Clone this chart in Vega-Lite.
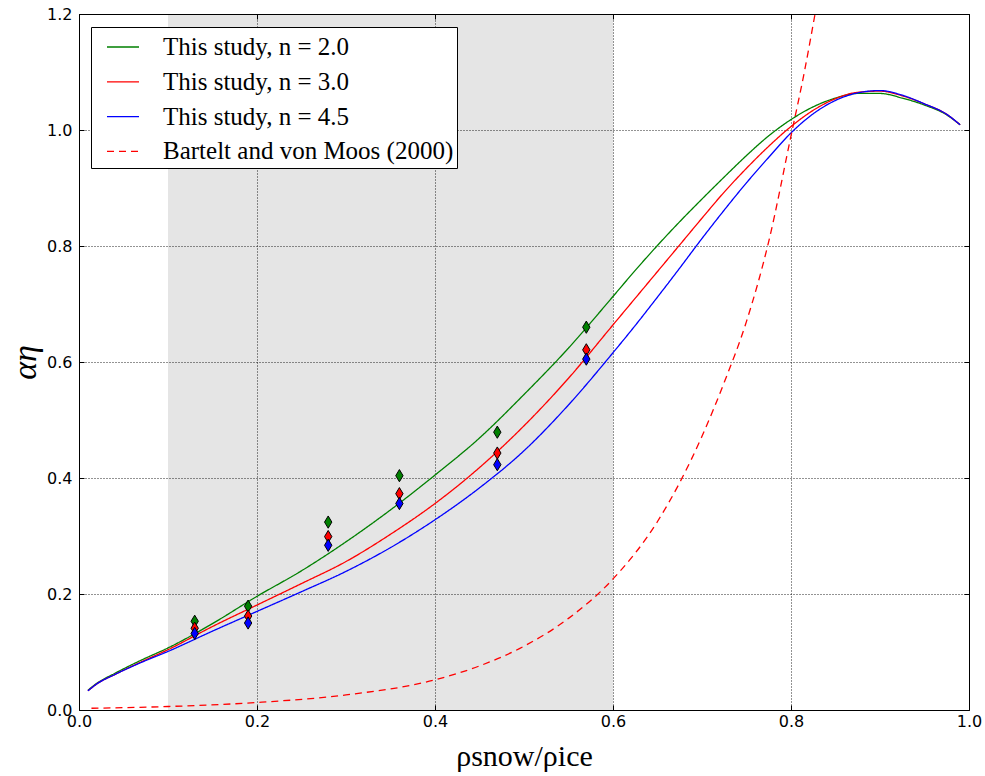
{
  "$schema": "https://vega.github.io/schema/vega-lite/v6.json",
  "width": 890,
  "height": 696,
  "autosize": {"type": "none"},
  "padding": {"left": 79, "top": 14, "right": 16, "bottom": 66},
  "background": "white",
  "config": {
    "view": {"stroke": null},
    "axis": {
      "labelFont": "DejaVu Sans",
      "labelFontSize": 16,
      "labelColor": "black",
      "tickColor": "black",
      "tickWidth": 1,
      "tickSize": -5,
      "domain": true,
      "domainColor": "black",
      "domainWidth": 1,
      "gridColor": "black",
      "gridOpacity": 0.85,
      "gridDash": [1, 2],
      "gridWidth": 1,
      "labelFlush": false,
      "labelOverlap": false,
      "labelBound": false,
      "zindex": 1
    },
    "legend": {
      "orient": "none",
      "legendX": 12,
      "legendY": 13,
      "strokeColor": "black",
      "fillColor": "white",
      "padding": 3,
      "symbolType": "stroke",
      "symbolSize": 1024,
      "symbolStrokeWidth": 1.3,
      "symbolOffset": 12,
      "labelOffset": 23,
      "labelFont": "Liberation Serif",
      "labelFontSize": 25,
      "labelColor": "black",
      "labelLimit": 0,
      "rowPadding": 4.8,
      "cornerRadius": 0
    }
  },
  "datasets": {
    "band": [{"x0": 0.1, "x1": 0.6}],
    "curves": [
      {"s": "This study,  n = 2.0", "x": 0.01, "y": 0.034},
      {"s": "This study,  n = 2.0", "x": 0.02, "y": 0.046},
      {"s": "This study,  n = 2.0", "x": 0.04, "y": 0.063},
      {"s": "This study,  n = 2.0", "x": 0.07, "y": 0.086},
      {"s": "This study,  n = 2.0", "x": 0.1, "y": 0.107},
      {"s": "This study,  n = 2.0", "x": 0.15, "y": 0.149},
      {"s": "This study,  n = 2.0", "x": 0.2, "y": 0.196},
      {"s": "This study,  n = 2.0", "x": 0.25, "y": 0.240},
      {"s": "This study,  n = 2.0", "x": 0.3, "y": 0.290},
      {"s": "This study,  n = 2.0", "x": 0.35, "y": 0.345},
      {"s": "This study,  n = 2.0", "x": 0.4, "y": 0.405},
      {"s": "This study,  n = 2.0", "x": 0.45, "y": 0.469},
      {"s": "This study,  n = 2.0", "x": 0.5, "y": 0.544},
      {"s": "This study,  n = 2.0", "x": 0.55, "y": 0.624},
      {"s": "This study,  n = 2.0", "x": 0.6, "y": 0.713},
      {"s": "This study,  n = 2.0", "x": 0.625, "y": 0.758},
      {"s": "This study,  n = 2.0", "x": 0.65, "y": 0.801},
      {"s": "This study,  n = 2.0", "x": 0.675, "y": 0.842},
      {"s": "This study,  n = 2.0", "x": 0.7, "y": 0.881},
      {"s": "This study,  n = 2.0", "x": 0.725, "y": 0.919},
      {"s": "This study,  n = 2.0", "x": 0.75, "y": 0.956},
      {"s": "This study,  n = 2.0", "x": 0.775, "y": 0.990},
      {"s": "This study,  n = 2.0", "x": 0.8, "y": 1.018},
      {"s": "This study,  n = 2.0", "x": 0.825, "y": 1.040},
      {"s": "This study,  n = 2.0", "x": 0.85, "y": 1.055},
      {"s": "This study,  n = 2.0", "x": 0.875, "y": 1.063},
      {"s": "This study,  n = 2.0", "x": 0.9, "y": 1.063},
      {"s": "This study,  n = 2.0", "x": 0.925, "y": 1.055},
      {"s": "This study,  n = 2.0", "x": 0.95, "y": 1.043},
      {"s": "This study,  n = 2.0", "x": 0.975, "y": 1.026},
      {"s": "This study,  n = 2.0", "x": 0.99, "y": 1.009},
      {"s": "This study,  n = 3.0", "x": 0.01, "y": 0.033},
      {"s": "This study,  n = 3.0", "x": 0.02, "y": 0.045},
      {"s": "This study,  n = 3.0", "x": 0.04, "y": 0.061},
      {"s": "This study,  n = 3.0", "x": 0.07, "y": 0.083},
      {"s": "This study,  n = 3.0", "x": 0.1, "y": 0.104},
      {"s": "This study,  n = 3.0", "x": 0.15, "y": 0.144},
      {"s": "This study,  n = 3.0", "x": 0.2, "y": 0.181},
      {"s": "This study,  n = 3.0", "x": 0.25, "y": 0.218},
      {"s": "This study,  n = 3.0", "x": 0.3, "y": 0.256},
      {"s": "This study,  n = 3.0", "x": 0.35, "y": 0.303},
      {"s": "This study,  n = 3.0", "x": 0.4, "y": 0.356},
      {"s": "This study,  n = 3.0", "x": 0.45, "y": 0.418},
      {"s": "This study,  n = 3.0", "x": 0.5, "y": 0.490},
      {"s": "This study,  n = 3.0", "x": 0.55, "y": 0.572},
      {"s": "This study,  n = 3.0", "x": 0.6, "y": 0.664},
      {"s": "This study,  n = 3.0", "x": 0.625, "y": 0.710},
      {"s": "This study,  n = 3.0", "x": 0.65, "y": 0.756},
      {"s": "This study,  n = 3.0", "x": 0.675, "y": 0.802},
      {"s": "This study,  n = 3.0", "x": 0.7, "y": 0.848},
      {"s": "This study,  n = 3.0", "x": 0.725, "y": 0.893},
      {"s": "This study,  n = 3.0", "x": 0.75, "y": 0.934},
      {"s": "This study,  n = 3.0", "x": 0.775, "y": 0.972},
      {"s": "This study,  n = 3.0", "x": 0.8, "y": 1.006},
      {"s": "This study,  n = 3.0", "x": 0.825, "y": 1.034},
      {"s": "This study,  n = 3.0", "x": 0.85, "y": 1.054},
      {"s": "This study,  n = 3.0", "x": 0.875, "y": 1.065},
      {"s": "This study,  n = 3.0", "x": 0.9, "y": 1.067},
      {"s": "This study,  n = 3.0", "x": 0.925, "y": 1.059},
      {"s": "This study,  n = 3.0", "x": 0.95, "y": 1.045},
      {"s": "This study,  n = 3.0", "x": 0.975, "y": 1.027},
      {"s": "This study,  n = 3.0", "x": 0.99, "y": 1.009},
      {"s": "This study,  n = 4.5", "x": 0.01, "y": 0.033},
      {"s": "This study,  n = 4.5", "x": 0.02, "y": 0.045},
      {"s": "This study,  n = 4.5", "x": 0.04, "y": 0.061},
      {"s": "This study,  n = 4.5", "x": 0.07, "y": 0.082},
      {"s": "This study,  n = 4.5", "x": 0.1, "y": 0.101},
      {"s": "This study,  n = 4.5", "x": 0.15, "y": 0.136},
      {"s": "This study,  n = 4.5", "x": 0.2, "y": 0.170},
      {"s": "This study,  n = 4.5", "x": 0.25, "y": 0.204},
      {"s": "This study,  n = 4.5", "x": 0.3, "y": 0.239},
      {"s": "This study,  n = 4.5", "x": 0.35, "y": 0.280},
      {"s": "This study,  n = 4.5", "x": 0.4, "y": 0.328},
      {"s": "This study,  n = 4.5", "x": 0.45, "y": 0.383},
      {"s": "This study,  n = 4.5", "x": 0.5, "y": 0.447},
      {"s": "This study,  n = 4.5", "x": 0.55, "y": 0.526},
      {"s": "This study,  n = 4.5", "x": 0.6, "y": 0.616},
      {"s": "This study,  n = 4.5", "x": 0.625, "y": 0.663},
      {"s": "This study,  n = 4.5", "x": 0.65, "y": 0.712},
      {"s": "This study,  n = 4.5", "x": 0.675, "y": 0.762},
      {"s": "This study,  n = 4.5", "x": 0.7, "y": 0.813},
      {"s": "This study,  n = 4.5", "x": 0.725, "y": 0.862},
      {"s": "This study,  n = 4.5", "x": 0.75, "y": 0.909},
      {"s": "This study,  n = 4.5", "x": 0.775, "y": 0.953},
      {"s": "This study,  n = 4.5", "x": 0.8, "y": 0.995},
      {"s": "This study,  n = 4.5", "x": 0.825, "y": 1.028},
      {"s": "This study,  n = 4.5", "x": 0.85, "y": 1.051},
      {"s": "This study,  n = 4.5", "x": 0.875, "y": 1.064},
      {"s": "This study,  n = 4.5", "x": 0.9, "y": 1.068},
      {"s": "This study,  n = 4.5", "x": 0.925, "y": 1.060},
      {"s": "This study,  n = 4.5", "x": 0.95, "y": 1.045},
      {"s": "This study,  n = 4.5", "x": 0.975, "y": 1.027},
      {"s": "This study,  n = 4.5", "x": 0.99, "y": 1.009},
      {"s": "Bartelt and von Moos (2000)", "x": 0.014, "y": 0.003},
      {"s": "Bartelt and von Moos (2000)", "x": 0.1, "y": 0.006},
      {"s": "Bartelt and von Moos (2000)", "x": 0.2, "y": 0.013},
      {"s": "Bartelt and von Moos (2000)", "x": 0.3, "y": 0.026},
      {"s": "Bartelt and von Moos (2000)", "x": 0.4, "y": 0.052},
      {"s": "Bartelt and von Moos (2000)", "x": 0.45, "y": 0.076},
      {"s": "Bartelt and von Moos (2000)", "x": 0.5, "y": 0.110},
      {"s": "Bartelt and von Moos (2000)", "x": 0.55, "y": 0.158},
      {"s": "Bartelt and von Moos (2000)", "x": 0.6, "y": 0.226},
      {"s": "Bartelt and von Moos (2000)", "x": 0.65, "y": 0.325},
      {"s": "Bartelt and von Moos (2000)", "x": 0.7, "y": 0.472},
      {"s": "Bartelt and von Moos (2000)", "x": 0.725, "y": 0.565},
      {"s": "Bartelt and von Moos (2000)", "x": 0.75, "y": 0.670},
      {"s": "Bartelt and von Moos (2000)", "x": 0.775, "y": 0.808},
      {"s": "Bartelt and von Moos (2000)", "x": 0.8, "y": 0.990},
      {"s": "Bartelt and von Moos (2000)", "x": 0.815, "y": 1.100},
      {"s": "Bartelt and von Moos (2000)", "x": 0.827, "y": 1.200}
    ],
    "points": [
      {"n": "2.0", "x": 0.13, "y": 0.153},
      {"n": "3.0", "x": 0.13, "y": 0.141},
      {"n": "4.5", "x": 0.13, "y": 0.132},
      {"n": "2.0", "x": 0.19, "y": 0.179},
      {"n": "3.0", "x": 0.19, "y": 0.162},
      {"n": "4.5", "x": 0.19, "y": 0.150},
      {"n": "2.0", "x": 0.28, "y": 0.324},
      {"n": "3.0", "x": 0.28, "y": 0.299},
      {"n": "4.5", "x": 0.28, "y": 0.284},
      {"n": "2.0", "x": 0.36, "y": 0.404},
      {"n": "3.0", "x": 0.36, "y": 0.373},
      {"n": "4.5", "x": 0.36, "y": 0.356},
      {"n": "2.0", "x": 0.47, "y": 0.479},
      {"n": "3.0", "x": 0.47, "y": 0.443},
      {"n": "4.5", "x": 0.47, "y": 0.423},
      {"n": "2.0", "x": 0.57, "y": 0.660},
      {"n": "3.0", "x": 0.57, "y": 0.621},
      {"n": "4.5", "x": 0.57, "y": 0.605}
    ]
  },
  "layer": [
    {
      "data": {"name": "band"},
      "mark": {"type": "rect", "color": "black", "opacity": 0.102},
      "encoding": {
        "x": {"field": "x0", "type": "quantitative", "scale": {"domain": [0, 1]}, "axis": null},
        "x2": {"field": "x1"}
      }
    },
    {
      "data": {"name": "curves"},
      "mark": {"type": "line", "strokeWidth": 1.3, "clip": true, "interpolate": "monotone"},
      "encoding": {
        "x": {
          "field": "x", "type": "quantitative",
          "scale": {"domain": [0, 1], "nice": false, "zero": false},
          "axis": {
            "orient": "bottom", "grid": true,
            "values": [0, 0.2, 0.4, 0.6, 0.8, 1.0], "format": ".1f",
            "labelPadding": 8,
            "title": "ρsnow/ρice",
            "titleFont": "Liberation Serif", "titleFontSize": 30, "titleFontWeight": "normal",
            "titleColor": "black", "titlePadding": 12
          }
        },
        "y": {
          "field": "y", "type": "quantitative",
          "scale": {"domain": [0, 1.2], "nice": false, "zero": false},
          "axis": {
            "orient": "left", "grid": true,
            "values": [0, 0.2, 0.4, 0.6, 0.8, 1.0, 1.2], "format": ".1f",
            "labelPadding": 12,
            "title": "αη",
            "titleFont": "Liberation Serif", "titleFontSize": 34, "titleFontWeight": "normal",
            "titleFontStyle": "italic",
            "titleColor": "black", "titlePadding": 4
          }
        },
        "color": {
          "field": "s", "type": "nominal",
          "scale": {
            "domain": ["This study,  n = 2.0", "This study,  n = 3.0", "This study,  n = 4.5", "Bartelt and von Moos (2000)"],
            "range": ["#008000", "#ff0000", "#0000ff", "#ff0000"]
          },
          "legend": {"title": null}
        },
        "strokeDash": {
          "field": "s", "type": "nominal",
          "scale": {
            "domain": ["This study,  n = 2.0", "This study,  n = 3.0", "This study,  n = 4.5", "Bartelt and von Moos (2000)"],
            "range": [[1, 0], [1, 0], [1, 0], [7, 5]]
          },
          "legend": {"title": null}
        }
      }
    },
    {
      "data": {"name": "points"},
      "mark": {
        "type": "point", "shape": "M0,-1L0.6,0L0,1L-0.6,0Z", "filled": true,
        "size": 150, "stroke": "black", "strokeWidth": 1, "opacity": 1
      },
      "encoding": {
        "x": {
          "field": "x", "type": "quantitative",
          "axis": {"orient": "top", "grid": false, "labels": false, "title": null,
                   "values": [0, 0.2, 0.4, 0.6, 0.8, 1.0]}
        },
        "y": {
          "field": "y", "type": "quantitative",
          "axis": {"orient": "right", "grid": false, "labels": false, "title": null,
                   "values": [0, 0.2, 0.4, 0.6, 0.8, 1.0, 1.2]}
        },
        "fill": {
          "field": "n", "type": "nominal",
          "scale": {"domain": ["2.0", "3.0", "4.5"], "range": ["#008000", "#ff0000", "#0000ff"]},
          "legend": null
        }
      }
    }
  ],
  "resolve": {"axis": {"x": "independent", "y": "independent"}}
}
